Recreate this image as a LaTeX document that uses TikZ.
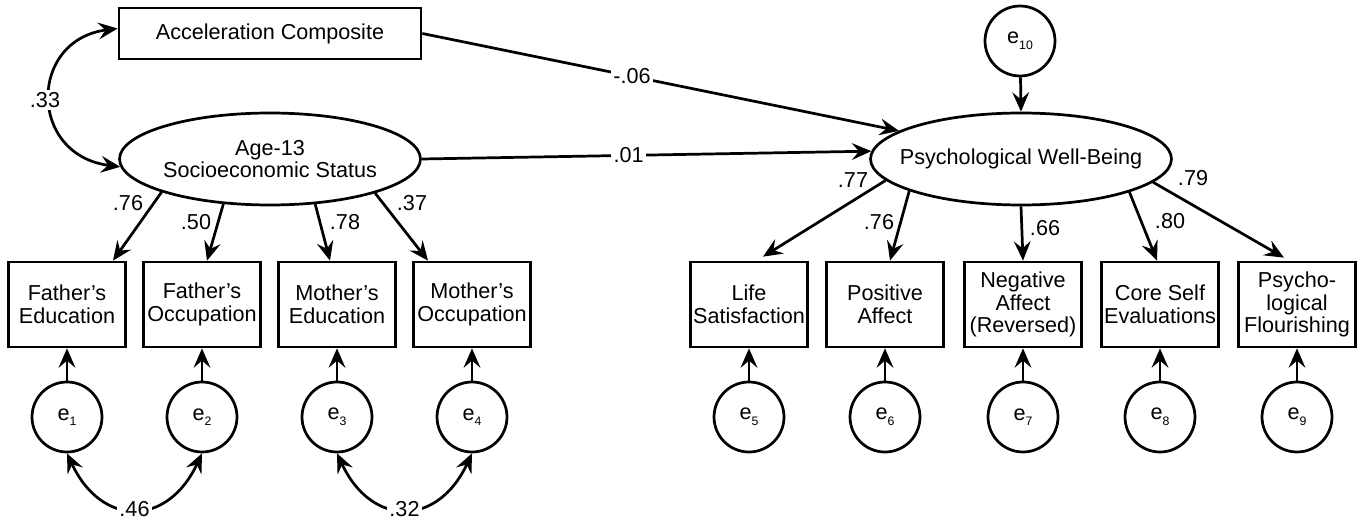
\documentclass[tikz,border=0pt]{standalone}
\usepackage{fontspec}
\setmainfont{Liberation Sans}
\usetikzlibrary{shapes.geometric,arrows.meta,calc}
\newcommand{\esub}[1]{\raisebox{-3.2pt}{\fontsize{7}{7}\selectfont #1}}
\newcommand{\zb}[1]{\makebox[0pt]{#1}}
\begin{document}
\begin{tikzpicture}[x=0.02cm,y=-0.02cm,
  every node/.style={font=\fontsize{12.3}{13}\selectfont},
  obs/.style={draw, line width=1.55pt, minimum width=2.34cm, minimum height=1.7cm, align=center, inner sep=0.5pt},
  lat/.style={draw, ellipse, line width=1.55pt, minimum width=6.02cm, minimum height=1.84cm, align=center, inner sep=0pt},
  err/.style={draw, circle, line width=1.55pt, minimum size=1.4cm, inner sep=0pt},
  arr/.style={line width=1.55pt, -{Stealth[length=11pt,width=9.5pt,inset=4pt]}},
  cov/.style={line width=1.55pt, {Stealth[length=11pt,width=9.5pt,inset=4pt]}-{Stealth[length=11pt,width=9.5pt,inset=4pt]}},
  lab/.style={inner sep=1pt},
  blank/.style={fill=white, inner sep=1.5pt}]
\useasboundingbox (0,0) rectangle (1359,523);

% latent and composite
\node[draw, line width=1.55pt, minimum width=6.04cm, minimum height=1.02cm] (acc) at (270,33.5) {Acceleration Composite};
\node[lat] (ses) at (270,159) {\zb{Age-13}\\\zb{Socioeconomic Status}};
\node[lat] (pwb) at (1021,159) {\zb{Psychological Well-Being}};
\node[err] (e10) at (1020,41) {e\esub{10}};

% left indicators
\node[obs] (fe) at (67,304.5) {Father’s\\Education};
\node[obs] (fo) at (202,304.5) {Father’s\\Occupation};
\node[obs] (me) at (337,304.5) {Mother’s\\Education};
\node[obs] (mo) at (472,304.5) {Mother’s\\Occupation};
\node[err] (e1) at (67,417) {e\esub{1}};
\node[err] (e2) at (202,417) {e\esub{2}};
\node[err] (e3) at (337,417) {e\esub{3}};
\node[err] (e4) at (472,417) {e\esub{4}};

% right indicators
\node[obs] (ls) at (749,304.5) {Life\\Satisfaction};
\node[obs] (pa) at (885,304.5) {Positive\\Affect};
\node[obs] (na) at (1023,304.5) {Negative\\Affect\\(Reversed)};
\node[obs] (cs) at (1160,304.5) {Core Self\\Evaluations};
\node[obs] (pf) at (1297,304.5) {Psycho-\\logical\\Flourishing};
\node[err] (e5) at (749,417) {e\esub{5}};
\node[err] (e6) at (885,417) {e\esub{6}};
\node[err] (e7) at (1023,417) {e\esub{7}};
\node[err] (e8) at (1160,417) {e\esub{8}};
\node[err] (e9) at (1297,417) {e\esub{9}};

% structural paths
\draw[arr] (acc.east) -- (pwb.167.6) node[pos=0.44, blank] {-.06};
\draw[arr] (ses.east) -- (pwb.177.3) node[pos=0.46, blank] {.01};
\draw[arr] (e10) -- (pwb.north);

% correlation .33
\coordinate (c33a) at ($(acc.west)+(0,-5)$);
\coordinate (c33b) at (ses.183);
\draw[cov] (c33a) .. controls (28,40) and (28,155) .. (c33b);
\node[blank] (l33) at (45,100) {.33};

% SES loadings
\draw[arr] (ses.197.6) -- ($(fe.north)+(46,0)$);
\draw[arr] (ses.224.4) -- ($(fo.north)+(5,0)$);
\draw[arr] (ses.315.6) -- ($(me.north)+(-7,0)$);
\draw[arr] (ses.342.4) -- ($(mo.north)+(-44,0)$);
\node[lab] (l76a) at (128,203) {.76};
\node[lab] (l50) at (196,222) {.50};
\node[lab] (l78) at (345,222) {.78};
\node[lab] (l37) at (412,203) {.37};

% PWB loadings
\draw[arr] (pwb.189.8) -- ($(ls.north)+(14,-4)$);
\draw[arr] (pwb.196.6) -- ($(pa.north)+(5,0)$);
\draw[arr] (pwb.south) -- (na.north);
\draw[arr] (pwb.343.6) -- ($(cs.north)+(-3,0)$);
\draw[arr] (pwb.350.3) -- ($(pf.north)+(-13,-3)$);
\node[lab] (l77) at (853,180) {.77};
\node[lab] (l76b) at (879,222) {.76};
\node[lab] (l66) at (1045,228) {.66};
\node[lab] (l80) at (1170,221) {.80};
\node[lab] (l79) at (1193,178) {.79};

% error arrows
\foreach \e/\b in {e1/fe,e2/fo,e3/me,e4/mo,e5/ls,e6/pa,e7/na,e8/cs,e9/pf}
  \draw[arr] (\e.north) -- (\b.south);

% residual covariances
\draw[cov] (e1.south) to[out=-65,in=-115,looseness=1.55] node[pos=0.5, blank] {.46} (e2.south);
\draw[cov] (e3.south) to[out=-65,in=-115,looseness=1.55] node[pos=0.5, blank] {.32} (e4.south);
\end{tikzpicture}
\end{document}
